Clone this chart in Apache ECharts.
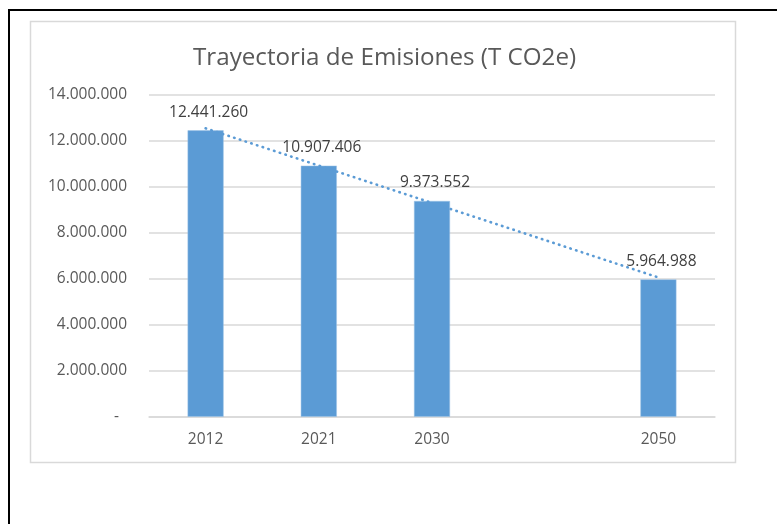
<!DOCTYPE html>
<html><head><meta charset="utf-8">
<script src="https://cdn.jsdelivr.net/npm/echarts@6/dist/echarts.min.js"></script>
<style>html,body{margin:0;padding:0;background:#fff}#c{width:777px;height:524px}</style>
</head><body><div id="c"></div>
<script>
const categories = ['2012', '2021', '2030', '', '2050'];
const emissions = [12441260, 10907406, 9373552, null, 5964988];
// dotted linear trendline, endpoints
const trendline = [12530000, null, null, null, 6050000];
const yTicks = { min: 0, max: 14000000, interval: 2000000 };
const titleText = 'Trayectoria de Emisiones (T CO2e)';

const FONT = '"Open Sans", "Noto Sans", sans-serif';
function fmt(v) {
  if (v === 0) return '-  ';
  return String(Math.round(v)).replace(/\B(?=(\d{3})+(?!\d))/g, '.');
}
const chart = echarts.init(document.getElementById('c'), null, { renderer: 'canvas' });
chart.setOption({
  animation: false,
  backgroundColor: '#fff',
  title: {
    text: titleText, left: 188, top: 41,
    textStyle: { fontFamily: FONT, fontSize: 24.2, fontWeight: 'normal', color: '#595959' }
  },
  graphic: [
    { type: 'rect', shape: { x: 9, y: 10, width: 900, height: 700 }, style: { fill: 'none', stroke: '#000', lineWidth: 2 }, silent: true },
    { type: 'rect', shape: { x: 30.5, y: 21.5, width: 705, height: 441 }, style: { fill: 'none', stroke: '#d9d9d9', lineWidth: 1.5 }, silent: true }
  ],
  grid: { left: 149, right: 62, top: 94.5, bottom: 107.3, containLabel: false },
  xAxis: {
    type: 'category', data: categories,
    axisLine: { show: true, lineStyle: { color: '#d9d9d9', width: 1.5 } },
    axisTick: { show: false },
    axisLabel: { fontFamily: FONT, fontSize: 15.5, color: '#595959', margin: 15 }
  },
  yAxis: {
    type: 'value', min: yTicks.min, max: yTicks.max, interval: yTicks.interval,
    axisLine: { show: false }, axisTick: { show: false },
    splitLine: { lineStyle: { color: '#d9d9d9', width: 1.5 } },
    axisLabel: { fontFamily: FONT, fontSize: 15.5, color: '#595959', margin: 22, formatter: fmt }
  },
  series: [
    {
      type: 'bar', data: emissions, barWidth: 36,
      itemStyle: { color: '#5B9BD5', borderColor: '#9dc3e6', borderWidth: 0.5 },
      label: {
        show: true, position: 'top', distance: 10,
        fontFamily: FONT, fontSize: 15.5, color: '#404040', offset: [3, 0],
        formatter: p => fmt(p.value)
      }
    },
    {
      type: 'line', data: trendline, connectNulls: true, symbol: 'none', z: 5,
      lineStyle: { color: '#5B9BD5', width: 2.6, type: [0.5, 5.5], cap: 'round' }
    }
  ]
});
</script></body></html>
